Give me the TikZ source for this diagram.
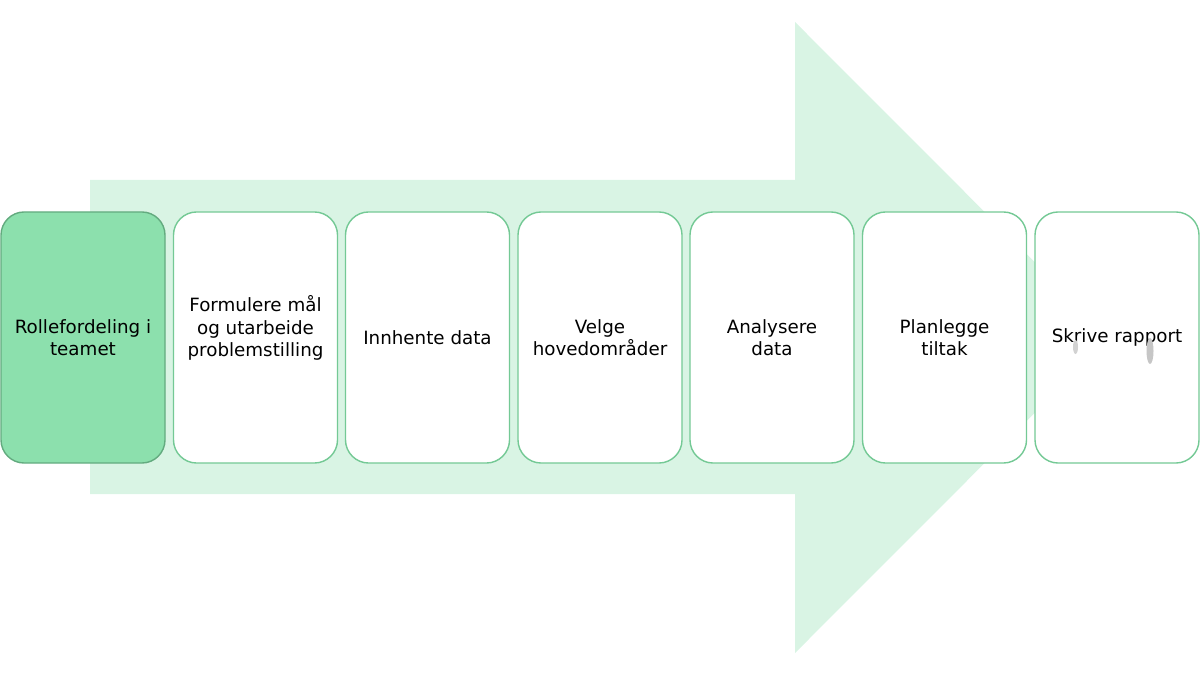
\documentclass[tikz,border=0pt]{standalone}
\usepackage{fontspec}
\setmainfont{DejaVu Sans}
\usepackage{tikz}
\usetikzlibrary{positioning}
\definecolor{arrowgreen}{HTML}{D9F4E4}
\definecolor{boxgreen}{HTML}{8CE0AD}
\definecolor{edgegreen}{HTML}{74C995}
\tikzset{
  stepbox/.style={draw=edgegreen,line width=1pt,fill=white,rounded corners=0.58cm,
    minimum width=4.1cm,minimum height=6.275cm,align=center,inner sep=2pt,
    font=\fontsize{13}{16}\selectfont},
  firstbox/.style={stepbox,fill=boxgreen,draw=edgegreen!85!black}
}
\begin{document}
\begin{tikzpicture}[x=0.025cm,y=-0.025cm]
	\useasboundingbox (0,0) rectangle (1200,675);
	% big arrow behind the steps
	\fill[arrowgreen] (90,180) -- (795,180) -- (795,22) -- (1110,337.5) -- (795,653) -- (795,494) -- (90,494) -- cycle;
	\node[firstbox] (roller) at (83,337.5) {Rollefordeling i\\teamet};
	\node[stepbox] (maal) at (255.5,337.5) {Formulere mål\\og utarbeide\\problemstilling\\\mbox{}};
	\node[stepbox] (data) at (427.5,337.5) {Innhente data};
	\node[stepbox] (omraader) at (600,337.5) {Velge\\hovedområder};
	\node[stepbox] (analyse) at (772,337.5) {Analysere\\data};
	\node[stepbox] (tiltak) at (944.5,337.5) {Planlegge\\tiltak};
	\node[stepbox] (rapport) at (1117,337.5) {Skrive rapport};
	% grey marks under the last text
	\fill[gray!35] (1075.5,347) ellipse (2.5 and 7);
	\fill[gray!45] (1150,351) ellipse (3.5 and 13);
\end{tikzpicture}
\end{document}
